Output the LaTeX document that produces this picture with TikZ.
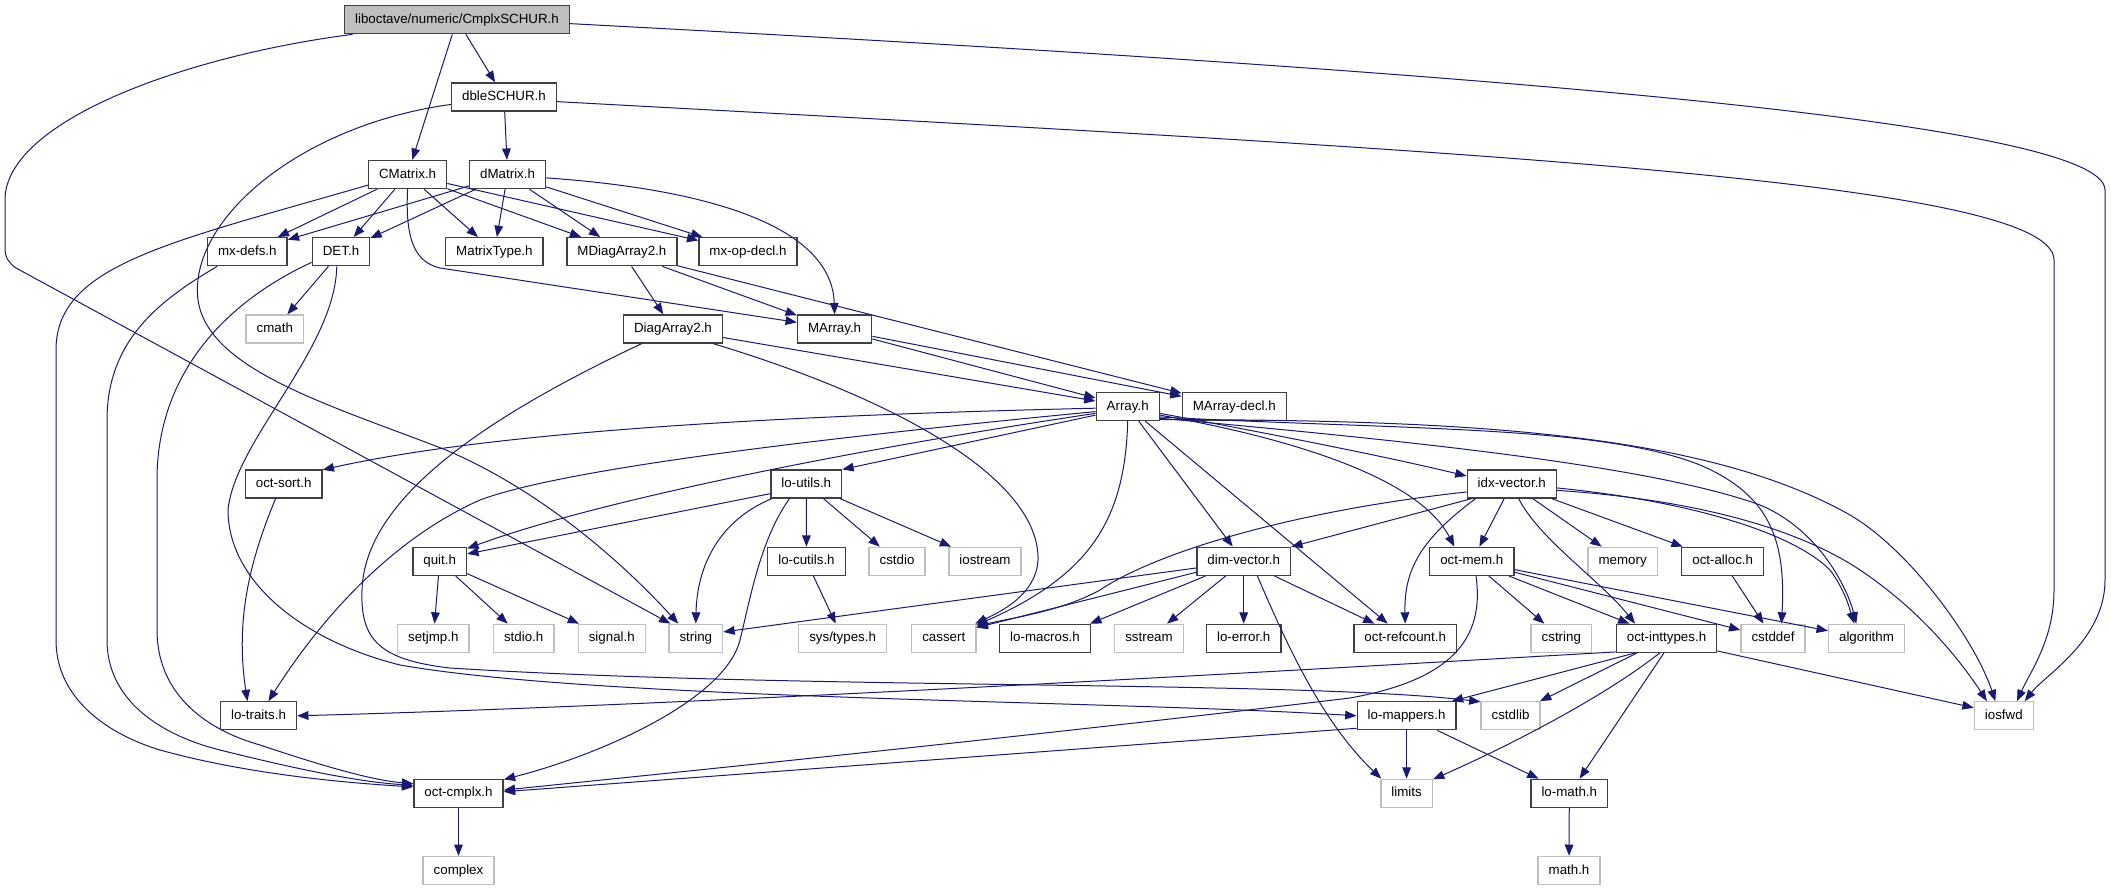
\documentclass[tikz,border=0pt]{standalone}
\usepackage{fontspec}
\setmainfont{Liberation Sans}
\usetikzlibrary{arrows.meta}
\definecolor{edgeblue}{HTML}{191970}
\definecolor{boxgray}{HTML}{404040}
\definecolor{sysgray}{HTML}{BFBFBF}

\begin{document}
\begin{tikzpicture}[x=0.75pt,y=-0.75pt,
    hdr/.style={draw=boxgray,line width=1pt,fill=white,inner xsep=7.9pt,inner ysep=0pt,
      minimum height=21pt,text height=7.4pt,text depth=2pt,font=\fontsize{10}{12}\selectfont},
    sys/.style={hdr,draw=sysgray},
    inc/.style={draw=edgeblue,line width=0.75pt,-{Triangle[length=8.5pt,width=6.5pt]}}
  ]
  \useasboundingbox (0,0) rectangle (2111,891);

  % headers, row by row
  \node[hdr,fill=sysgray] (root) at (457,19.7) {liboctave/numeric/CmplxSCHUR.h};
  \node[hdr] (dble) at (504,97) {dbleSCHUR.h};
  \node[hdr] (cmat) at (407.6,174.5) {CMatrix.h};
  \node[hdr] (dmat) at (507.6,174.5) {dMatrix.h};
  \node[hdr] (mxdefs) at (247.3,251.7) {mx-defs.h};
  \node[hdr] (det) at (341,251.7) {DET.h};
  \node[hdr] (mtype) at (494.4,251.7) {MatrixType.h};
  \node[hdr] (mdiag) at (621.9,251.7) {MDiagArray2.h};
  \node[hdr] (mxop) at (748,251.7) {mx-op-decl.h};
  \node[sys] (cmath) at (274.8,329) {cmath};
  \node[hdr] (diag) at (673,329) {DiagArray2.h};
  \node[hdr] (marray) at (834.6,329) {MArray.h};
  \node[hdr] (array) at (1127.7,406.5) {Array.h};
  \node[hdr] (madecl) at (1234.3,406.5) {MArray-decl.h};
  \node[hdr] (octsort) at (283.7,484) {oct-sort.h};
  \node[hdr] (loutils) at (806.3,484) {lo-utils.h};
  \node[hdr] (idxvec) at (1511.8,484) {idx-vector.h};
  \node[hdr] (quit) at (439.7,561.3) {quit.h};
  \node[hdr] (locutils) at (806.5,561.3) {lo-cutils.h};
  \node[sys] (cstdio) at (897,561.3) {cstdio};
  \node[sys] (iostream) at (985,561.3) {iostream};
  \node[hdr] (dimvec) at (1243.7,561.3) {dim-vector.h};
  \node[hdr] (octmem) at (1471.8,561.3) {oct-mem.h};
  \node[sys] (memory) at (1622.6,561.3) {memory};
  \node[hdr] (octalloc) at (1722.7,561.3) {oct-alloc.h};
  \node[sys] (setjmp) at (433.3,638.3) {setjmp.h};
  \node[sys] (stdioh) at (523.7,638.3) {stdio.h};
  \node[sys] (signal) at (611.8,638.3) {signal.h};
  \node[sys] (string) at (695.8,638.3) {string};
  \node[sys] (systypes) at (842.6,638.3) {sys/types.h};
  \node[sys] (cassert) at (943.8,638.3) {cassert};
  \node[hdr] (lomacros) at (1045,638.3) {lo-macros.h};
  \node[sys] (sstream) at (1149,638.3) {sstream};
  \node[hdr] (loerror) at (1243.7,638.3) {lo-error.h};
  \node[hdr] (refcnt) at (1405.2,638.3) {oct-refcount.h};
  \node[sys] (cstring) at (1561.3,638.3) {cstring};
  \node[hdr] (octint) at (1666.5,638.3) {oct-inttypes.h};
  \node[sys] (cstddef) at (1773,638.3) {cstddef};
  \node[sys] (algorithm) at (1866.5,638.3) {algorithm};
  \node[hdr] (lotraits) at (258.5,715.8) {lo-traits.h};
  \node[hdr] (lomappers) at (1406.6,715.8) {lo-mappers.h};
  \node[sys] (cstdlib) at (1510.5,715.8) {cstdlib};
  \node[sys] (iosfwd) at (2003.8,715.8) {iosfwd};
  \node[hdr] (octcmplx) at (458.5,793.3) {oct-cmplx.h};
  \node[sys] (limits) at (1406.6,793.3) {limits};
  \node[hdr] (lomath) at (1569.3,793.3) {lo-math.h};
  \node[sys] (complex) at (458.5,870.5) {complex};
  \node[sys] (mathh) at (1569,870.5) {math.h};

  % CmplxSCHUR.h
  \draw[inc] (root) -- (cmat);
  \draw[inc] (root) -- (dble);
  \draw[inc] (root.188) .. controls (190,55) and (5,120) .. (5,200) -- (5,248)
    .. controls (5,258) and (9,263) .. (16,268) -- (string.150);
  \draw[inc] (root.-2) .. controls (1450,70) and (2105,120) .. (2105,190) -- (2105,580)
    .. controls (2105,640) and (2045,675) .. (iosfwd.35);

  % dbleSCHUR.h
  \draw[inc] (dble) -- (dmat);
  \draw[inc] (dble.188) .. controls (300,125) and (188,220) .. (198,300)
    .. controls (208,370) and (330,405) .. (446,450) .. controls (540,490) and (620,560) .. (string.140);
  \draw[inc] (dble.-5) .. controls (1450,150) and (2054,180) .. (2054,260) -- (2054,590)
    .. controls (2054,640) and (2030,672) .. (iosfwd.48);

  % CMatrix.h
  \draw[inc] (cmat) -- (mxdefs);
  \draw[inc] (cmat) -- (det);
  \draw[inc] (cmat) -- (mtype);
  \draw[inc] (cmat) -- (mdiag);
  \draw[inc] (cmat) -- (mxop);
  \draw[inc] (cmat.south) .. controls (405,240) and (415,262) .. (440,268) -- (marray.170);
  \draw[inc] (cmat.195) .. controls (168,243) and (56,265) .. (56,350) -- (56,640)
    .. controls (56,700) and (110,735) .. (160,750) .. controls (250,775) and (350,783) .. (octcmplx.172);

  % dMatrix.h
  \draw[inc] (dmat) -- (mxdefs);
  \draw[inc] (dmat) -- (det);
  \draw[inc] (dmat) -- (mtype);
  \draw[inc] (dmat) -- (mdiag);
  \draw[inc] (dmat) -- (mxop);
  \draw[inc] (dmat.-5) .. controls (720,190) and (832,230) .. (marray.north);

  % mx-defs.h, DET.h
  \draw[inc] (mxdefs.206) .. controls (160,300) and (107,340) .. (107,420) -- (107,640)
    .. controls (107,700) and (160,735) .. (220,750) .. controls (300,770) and (360,782) .. (octcmplx.170);
  \draw[inc] (det) -- (cmath);
  \draw[inc] (det.200) .. controls (230,300) and (157,370) .. (157,480) -- (157,630)
    .. controls (157,690) and (200,728) .. (260,745) .. controls (320,765) and (370,780) .. (octcmplx.168);
  \draw[inc] (det.254) .. controls (335,350) and (235,440) .. (228,510)
    .. controls (228,580) and (300,640) .. (400,665) .. controls (600,700) and (1100,700) .. (lomappers.west);

  % MDiagArray2.h, DiagArray2.h, MArray.h
  \draw[inc] (mdiag) -- (diag);
  \draw[inc] (mdiag) -- (marray);
  \draw[inc] (mdiag) -- (madecl);
  \draw[inc] (diag) -- (array);
  \draw[inc] (diag.-20) .. controls (900,400) and (1040,480) .. (1038,560)
    .. controls (1036,595) and (1000,612) .. (cassert.25);
  \draw[inc] (diag.205) .. controls (480,420) and (365,500) .. (362,590)
    .. controls (360,640) and (380,660) .. (450,668) .. controls (800,690) and (1300,680) .. (cstdlib.155);
  \draw[inc] (marray) -- (array);
  \draw[inc] (marray) -- (madecl);

  % Array.h
  \draw[inc] (array.183) .. controls (800,415) and (500,430) .. (octsort.20);
  \draw[inc] (array.189) .. controls (800,440) and (560,470) .. (480,500)
    .. controls (390,540) and (320,620) .. (lotraits.56);
  \draw[inc] (array.192) .. controls (850,450) and (600,500) .. (quit.25);
  \draw[inc] (array.195) -- (loutils.22);
  \draw[inc] (array.south) .. controls (1125,520) and (1090,575) .. (cassert.22);
  \draw[inc] (array) -- (dimvec);
  \draw[inc] (array) -- (refcnt);
  \draw[inc] (array.-15) .. controls (1300,440) and (1420,480) .. (octmem.140);
  \draw[inc] (array.-12) .. controls (1250,430) and (1380,455) .. (idxvec.170);
  \draw[inc] (array.-18) .. controls (1400,430) and (1600,425) .. (1700,465)
    .. controls (1770,495) and (1786,540) .. (cstddef.60);
  \draw[inc] (array.-20) .. controls (1400,440) and (1650,465) .. (1760,505)
    .. controls (1820,530) and (1848,590) .. (algorithm.125);
  \draw[inc] (array.-22) .. controls (1450,420) and (1700,430) .. (1850,515)
    .. controls (1910,550) and (1975,640) .. (iosfwd.120);

  % idx-vector.h
  \draw[inc] (idxvec.190) .. controls (1300,510) and (1160,550) .. (1100,590)
    .. controls (1060,612) and (1010,618) .. (cassert.20);
  \draw[inc] (idxvec.200) -- (dimvec.17);
  \draw[inc] (idxvec) -- (octmem);
  \draw[inc] (idxvec.202) .. controls (1420,540) and (1404,570) .. (refcnt.north);
  \draw[inc] (idxvec.-65) .. controls (1540,540) and (1600,580) .. (octint.155);
  \draw[inc] (idxvec) -- (memory);
  \draw[inc] (idxvec) -- (octalloc);
  \draw[inc] (idxvec.-5) .. controls (1680,500) and (1790,530) .. (1830,570)
    .. controls (1845,590) and (1850,610) .. (algorithm.130);
  \draw[inc] (idxvec.-8) .. controls (1700,500) and (1800,530) .. (1860,570)
    .. controls (1920,610) and (1960,660) .. (iosfwd.139);

  % oct-mem.h, oct-alloc.h
  \draw[inc] (octmem.-74) .. controls (1485,640) and (1450,680) .. (1350,698)
    .. controls (1000,740) and (600,780) .. (octcmplx.4);
  \draw[inc] (octmem) -- (cstring);
  \draw[inc] (octmem) -- (octint);
  \draw[inc] (octmem) -- (cstddef);
  \draw[inc] (octmem) -- (algorithm);
  \draw[inc] (octalloc) -- (cstddef);

  % dim-vector.h
  \draw[inc] (dimvec.188) -- (string.13);
  \draw[inc] (dimvec.193) -- (cassert.18);
  \draw[inc] (dimvec.201) -- (lomacros.18);
  \draw[inc] (dimvec) -- (sstream);
  \draw[inc] (dimvec) -- (loerror);
  \draw[inc] (dimvec) -- (refcnt);
  \draw[inc] (dimvec.-47) .. controls (1285,640) and (1320,720) .. (limits.150);

  % quit.h, lo-utils.h, oct-sort.h
  \draw[inc] (quit) -- (setjmp);
  \draw[inc] (quit) -- (stdioh);
  \draw[inc] (quit) -- (signal);
  \draw[inc] (loutils.195) -- (quit.15);
  \draw[inc] (loutils.203) .. controls (720,520) and (697,565) .. (string.north);
  \draw[inc] (loutils.221) .. controls (760,540) and (750,600) .. (740,640)
    .. controls (725,700) and (600,755) .. (octcmplx.17);
  \draw[inc] (loutils) -- (locutils);
  \draw[inc] (loutils) -- (cstdio);
  \draw[inc] (loutils) -- (iostream);
  \draw[inc] (locutils) -- (systypes);
  \draw[inc] (octsort.241) .. controls (250,560) and (235,620) .. (lotraits.127);

  % oct-inttypes.h
  \draw[inc] (octint.195) .. controls (1300,670) and (700,705) .. (lotraits.east);
  \draw[inc] (octint.205) -- (lomappers.18);
  \draw[inc] (octint) -- (cstdlib);
  \draw[inc] (octint.-115) .. controls (1600,700) and (1500,750) .. (limits.28);
  \draw[inc] (octint.-100) -- (lomath.55);
  \draw[inc] (octint.-14) -- (iosfwd.165);

  % lo-mappers.h and the rest
  \draw[inc] (lomappers.194) -- (octcmplx.2);
  \draw[inc] (lomappers) -- (limits);
  \draw[inc] (lomappers) -- (lomath);
  \draw[inc] (lomath) -- (mathh);
  \draw[inc] (octcmplx) -- (complex);
\end{tikzpicture}
\end{document}
